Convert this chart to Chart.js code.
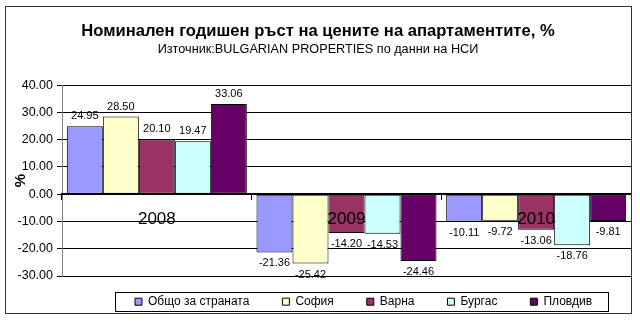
<!DOCTYPE html>
<html>
<head>
<meta charset="utf-8">
<script src="https://cdn.jsdelivr.net/npm/chart.js@4/dist/chart.umd.min.js"></script>
<style>
  html, body { margin: 0; padding: 0; background: #ffffff; }
  #wrap { width: 640px; height: 323px; }
</style>
</head>
<body>
<div id="wrap"><canvas id="c" width="640" height="323"></canvas></div>
<script>
const categories = ['2008', '2009', '2010'];
const seriesNames = ['Общо за страната', 'София', 'Варна', 'Бургас', 'Пловдив'];
const total   = [24.95, -21.36, -10.11];
const sofia   = [28.50, -25.42, -9.72];
const varna   = [20.10, -14.20, -13.06];
const burgas  = [19.47, -14.53, -18.76];
const plovdiv = [33.06, -24.46, -9.81];
const colors = ['#9999FF', '#FFFFCC', '#993366', '#CCFFFF', '#660066'];
const yMin = -30, yMax = 40, yStep = 10;

const FONT = "'Liberation Sans', Arial, sans-serif";
const seriesValues = [total, sofia, varna, burgas, plovdiv];

const datasets = seriesValues.map((vals, i) => ({
  label: seriesNames[i],
  data: vals,
  backgroundColor: colors[i],
  borderColor: '#000000',
  borderWidth: 1,
  borderSkipped: false,
  barPercentage: 1.0,
  categoryPercentage: 0.949
}));

const valueLabels = {
  id: 'valueLabels',
  afterDatasetsDraw(chart) {
    const ctx = chart.ctx;
    ctx.save();
    ctx.font = '11px ' + FONT;
    ctx.fillStyle = '#000000';
    ctx.textAlign = 'center';
    ctx.textBaseline = 'middle';
    chart.data.datasets.forEach((ds, di) => {
      const meta = chart.getDatasetMeta(di);
      meta.data.forEach((el, i) => {
        const v = ds.data[i];
        const y = v >= 0 ? el.y - 10 : el.y + 11;
        ctx.fillText(v.toFixed(2), el.x, y);
      });
    });
    ctx.restore();
  }
};

const legendPlace = {
  id: 'legendPlace',
  afterUpdate(chart) {
    const lg = chart.legend;
    if (!lg || !lg.legendHitBoxes || !lg.legendHitBoxes.length) return;
    const hb = lg.legendHitBoxes;
    const dx = 135 - hb[0].left;
    const dy = 301.7 - (hb[0].top + hb[0].height / 2);
    lg.left += dx; lg.right += dx;
    lg.top += dy; lg.bottom = 323;
    lg.height = lg.bottom - lg.top;
    hb.forEach(h => { h.left += dx; h.top += dy; });
  },
  afterDraw(chart) {
    const lg = chart.legend;
    const ctx = chart.ctx;
    ctx.save();
    if (lg && lg.legendHitBoxes && lg.legendHitBoxes.length) {
      const hb = lg.legendHitBoxes;
      const last = hb[hb.length - 1];
      const cy = hb[0].top + hb[0].height / 2;
      const l = Math.round(hb[0].left - 20) + 0.5;
      const r = Math.round(last.left + last.width + 16) + 0.5;
      const t = Math.round(cy - 9.7) + 0.5;
      const b = Math.round(cy + 9.3) + 0.5;
      ctx.strokeStyle = '#000000';
      ctx.lineWidth = 1;
      ctx.strokeRect(l, t, r - l, b - t);
    }
    ctx.strokeStyle = '#333333';
    ctx.lineWidth = 1;
    ctx.strokeRect(5.5, 6.5, 626, 307);
    ctx.restore();
  }
};

new Chart(document.getElementById('c'), {
  type: 'bar',
  data: { labels: categories, datasets: datasets },
  options: {
    responsive: false,
    animation: false,
    devicePixelRatio: 1,
    layout: { padding: { top: 6, left: 5, right: 9, bottom: 27 } },
    plugins: {
      title: {
        display: true,
        text: 'Номинален годишен ръст на цените на апартаментите, %',
        color: '#000000',
        font: { family: FONT, size: 16.6, weight: 'bold', lineHeight: 1.2 },
        padding: { top: 15, bottom: 0 }
      },
      subtitle: {
        display: true,
        text: 'Източник:BULGARIAN PROPERTIES по данни на НСИ',
        color: '#000000',
        font: { family: FONT, size: 12.7, lineHeight: 1.2 },
        padding: { top: 1, bottom: 28 }
      },
      legend: {
        display: true,
        position: 'bottom',
        maxHeight: 20,
        labels: {
          color: '#000000',
          font: { family: FONT, size: 12 },
          boxWidth: 7,
          boxHeight: 7,
          padding: 33
        }
      },
      tooltip: { enabled: false }
    },
    scales: {
      x: {
        position: { y: 0 },
        grid: {
          display: true,
          drawOnChartArea: false,
          drawTicks: true,
          tickLength: 5,
          color: '#000000',
          offset: true,
          z: 1
        },
        border: { display: true, color: '#000000', width: 2, z: 1 },
        ticks: {
          color: '#000000',
          font: { family: FONT, size: 17 },
          padding: 10,
          z: 2
        }
      },
      y: {
        min: yMin,
        max: yMax,
        afterFit(scale) { scale.width = 57; },
        title: {
          display: true,
          text: '%',
          color: '#000000',
          font: { family: FONT, size: 15, weight: 'bold', lineHeight: 1.2 },
          padding: { top: 7, bottom: 0 }
        },
        grid: {
          color: '#000000',
          lineWidth: 1,
          tickLength: 5,
          drawTicks: true
        },
        border: { display: true, color: '#808080', width: 1 },
        ticks: {
          stepSize: yStep,
          color: '#000000',
          font: { family: FONT, size: 12.5 },
          padding: 4,
          callback: v => Number(v).toFixed(2)
        }
      }
    }
  },
  plugins: [valueLabels, legendPlace]
});
</script>
</body>
</html>
